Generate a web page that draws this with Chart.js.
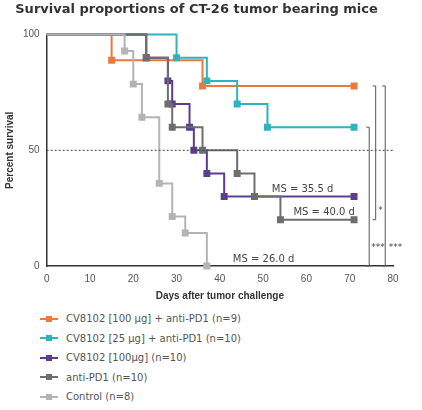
<!DOCTYPE html>
<html><head><script src="https://cdn.jsdelivr.net/npm/chart.js@4"></script>
<style>
body{margin:0;background:#fff;font-family:"DejaVu Sans",sans-serif;}
#wrap{position:relative;width:422px;height:306px;}
#legend{position:absolute;left:40px;top:309px;font-size:10px;color:#555;}
.it{height:19.5px;display:flex;align-items:center;}
.mk{position:relative;width:18px;height:10px;margin-right:8px;}
.mk i{position:absolute;left:0;top:4px;width:18px;height:2px;}
.mk b{position:absolute;left:6px;top:2px;width:6px;height:6px;}
</style></head><body>
<div id="wrap"><canvas id="c" width="422" height="306"></canvas></div>
<div id="legend"></div>
<script>
const seriesNames=["CV8102 [100 µg] + anti-PD1 (n=9)","CV8102 [25 µg] + anti-PD1 (n=10)","CV8102 [100µg] (n=10)","anti-PD1 (n=10)","Control (n=8)"];
const colors=["#e87a3c","#2fb3bd","#5b3e8c","#6e6e6e","#b4b4b4"];
const orangeX=[0,15,36,71], orangeY=[100,88.9,77.8,77.8];
const tealX=[0,30,37,44,51,71], tealY=[100,90,80,70,60,60];
const purpleX=[0,23,28,29,33,34,37,41,71], purpleY=[100,90,80,70,60,50,40,30,30];
const grayX=[0,23,28,29,36,44,48,54,71], grayY=[100,90,70,60,50,40,30,20,20];
const ctrlX=[0,18,20,22,26,29,32,37], ctrlY=[100,92.9,78.6,64.3,35.7,21.4,14.3,0];
const xTicks=[0,10,20,30,40,50,60,70,80];
const yTicks=[0,50,100];
const medians=[{t:"MS = 35.5 d",x:52,y:33},{t:"MS = 40.0 d",x:57,y:23},{t:"MS = 26.0 d",x:43,y:3}];
const order=[4,3,2,1,0];
const xs=[orangeX,tealX,purpleX,grayX,ctrlX], ys=[orangeY,tealY,purpleY,grayY,ctrlY];
const datasets=order.map(i=>({label:seriesNames[i],data:xs[i].map((x,k)=>({x,y:ys[i][k]})),
 borderColor:colors[i],backgroundColor:colors[i],borderWidth:2,stepped:true,pointStyle:'rect',
 pointRadius:xs[i].map((x,k)=>k==0?0:3.5),pointHoverRadius:0,clip:false}));
const L=document.getElementById('legend');
seriesNames.forEach((n,i)=>{L.innerHTML+=`<div class="it"><div class="mk"><i style="background:${colors[i]}"></i><b style="background:${colors[i]}"></b></div>${n}</div>`;});
const extras={id:'extras',afterDatasetsDraw(ch){
 const c=ch.ctx,xs=ch.scales.x,ys=ch.scales.y;const X=v=>xs.getPixelForValue(v),Y=v=>ys.getPixelForValue(v);
 c.save();c.strokeStyle='#444';c.lineWidth=1;c.setLineDash([2,2]);
 c.beginPath();c.moveTo(X(0),Y(50));c.lineTo(X(80),Y(50));c.stroke();c.setLineDash([]);
 c.fillStyle='#444';c.font='10px "DejaVu Sans"';c.textAlign='left';c.textBaseline='middle';
 medians.forEach(m=>c.fillText(m.t,X(m.x),Y(m.y)));
 c.strokeStyle='#555';
 const br=(x,y1,y2)=>{c.beginPath();c.moveTo(X(x)-3,Y(y1));c.lineTo(X(x),Y(y1));c.lineTo(X(x),Y(y2));c.lineTo(X(x)-3,Y(y2));c.stroke();};
 br(74.5,60,0);br(76,77.8,20);br(78.2,77.8,0);
 c.font='9px "DejaVu Sans"';
 c.fillText('*',X(76.6),Y(24));c.fillText('***',X(75),Y(8));c.fillText('***',X(79),Y(8));
 c.restore();}};
new Chart(document.getElementById('c'),{type:'line',data:{datasets},plugins:[extras],
options:{responsive:false,animation:false,
 layout:{padding:{left:0,right:29,top:0}},
 plugins:{legend:{display:false},tooltip:{enabled:false},
  title:{display:true,text:'Survival proportions of CT-26 tumor bearing mice',color:'#333',font:{family:'"DejaVu Sans"',size:13,weight:'bold'},padding:{top:2,bottom:17}}},
 scales:{
  x:{type:'linear',min:0,max:80,afterBuildTicks:a=>{a.ticks=xTicks.map(v=>({value:v}))},
   grid:{display:false,drawTicks:true,tickLength:4},border:{color:'#333',width:1.5},
   ticks:{color:'#555',font:{size:10}},title:{display:true,text:'Days after tumor challenge',color:'#333',font:{size:10,weight:'bold'},padding:{top:2}}},
  y:{min:0,max:100,afterBuildTicks:a=>{a.ticks=yTicks.map(v=>({value:v}))},
   grid:{display:false,tickLength:4},border:{color:'#333',width:1.5},
   ticks:{color:'#555',font:{size:10}},title:{display:true,text:'Percent survival',color:'#333',font:{size:10,weight:'bold'}}}}}});
</script></body></html>
